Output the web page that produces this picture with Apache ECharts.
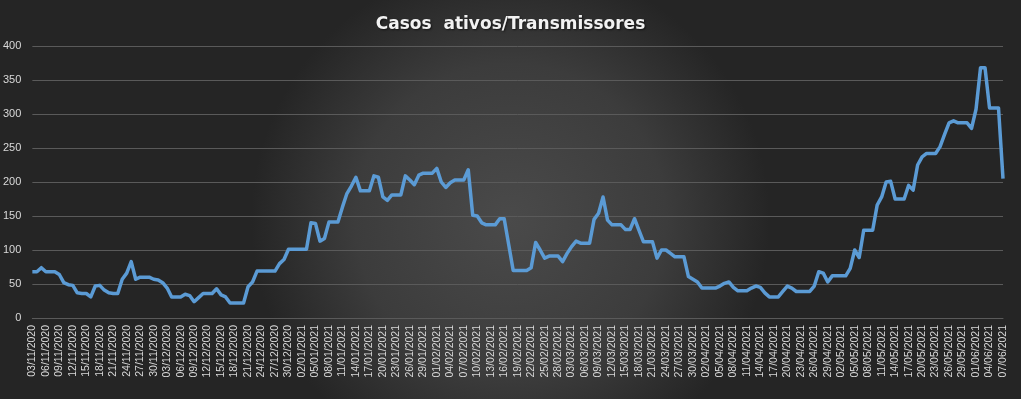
<!DOCTYPE html>
<html>
<head>
<meta charset="utf-8">
<script src="https://cdn.jsdelivr.net/npm/echarts@6/dist/echarts.min.js"></script>
<style>
html,body{margin:0;padding:0;background:#262626;}
#chart{width:1021px;height:399px;}
</style>
</head>
<body>
<div id="chart"></div>
<script>
// Data
const startDate = [2020, 11, 3]; // first day of the daily series
const dayCount = 217;             // 03/11/2020 .. 07/06/2021
const yTicks = [0, 50, 100, 150, 200, 250, 300, 350, 400];
const activeCases = [
  68, 68, 74, 68, 68, 68, 64, 52, 49, 48,
  37, 36, 36, 31, 47, 48, 41, 37, 36, 36,
  57, 66, 83, 57, 60, 60, 60, 57, 56, 52,
  44, 31, 31, 31, 35, 33, 24, 30, 36, 36,
  36, 43, 34, 31, 22, 22, 22, 22, 46, 53,
  69, 69, 69, 69, 69, 80, 86, 101, 101, 101,
  101, 101, 140, 139, 113, 117, 141, 141, 141, 163,
  183, 194, 207, 187, 187, 187, 209, 207, 178, 173,
  181, 181, 181, 209, 203, 196, 210, 213, 213, 213,
  220, 200, 192, 199, 203, 203, 203, 218, 151, 150,
  140, 137, 137, 137, 146, 146, 108, 70, 70, 70,
  70, 74, 111, 100, 88, 91, 91, 91, 83, 95,
  105, 113, 110, 110, 110, 145, 154, 178, 144, 137,
  137, 137, 130, 130, 146, 129, 112, 112, 112, 88,
  100, 100, 95, 90, 90, 90, 61, 57, 53, 44,
  44, 44, 44, 47, 51, 53, 45, 40, 40, 40,
  44, 47, 45, 37, 31, 31, 31, 39, 47, 44,
  39, 39, 39, 39, 47, 68, 66, 53, 62, 62,
  62, 62, 73, 100, 89, 129, 129, 129, 166, 178,
  200, 201, 175, 175, 175, 195, 188, 225, 237, 242,
  242, 242, 252, 270, 287, 290, 287, 287, 287, 279,
  307, 368, 368, 309, 309, 309, 205
];
const titleText = 'Casos  ativos/Transmissores';

function pad(n){ return (n < 10 ? '0' : '') + n; }
const categories = [];
for (let i = 0; i < dayCount; i++) {
  const d = new Date(Date.UTC(startDate[0], startDate[1] - 1, startDate[2] + i));
  categories.push(pad(d.getUTCDate()) + '/' + pad(d.getUTCMonth() + 1) + '/' + d.getUTCFullYear());
}

const chart = echarts.init(document.getElementById('chart'), null, {renderer: 'canvas'});
chart.setOption({
  animation: false,
  backgroundColor: {
    type: 'radial', x: 0.5, y: 0.55, r: 0.65,
    colorStops: [
      {offset: 0, color: '#4a4a4a'},
      {offset: 0.6, color: '#3c3c3c'},
      {offset: 1, color: '#252525'}
    ]
  },
  title: {
    text: titleText,
    left: 'center',
    top: 11,
    textStyle: {color: '#f2f2f2', fontSize: 17, fontWeight: 'bold', fontFamily: 'DejaVu Sans',
      textShadowColor: 'rgba(0,0,0,0.6)', textShadowBlur: 2, textShadowOffsetX: 1, textShadowOffsetY: 1}
  },
  grid: {left: 32, right: 18, top: 46, bottom: 81, containLabel: false},
  xAxis: {
    type: 'category',
    data: categories,
    boundaryGap: false,
    axisLine: {show: true, lineStyle: {color: '#5a5a5a'}},
    axisTick: {show: false},
    axisLabel: {
      interval: 2,
      rotate: 90,
      margin: 7,
      color: '#d9d9d9',
      fontSize: 10.5,
      fontFamily: 'Liberation Sans'
    },
    splitLine: {show: false}
  },
  yAxis: {
    type: 'value',
    min: yTicks[0],
    max: yTicks[yTicks.length - 1],
    interval: yTicks[1] - yTicks[0],
    axisLine: {show: false},
    axisTick: {show: false},
    axisLabel: {color: '#d9d9d9', fontSize: 11, margin: 11, fontFamily: 'Liberation Sans'},
    splitLine: {lineStyle: {color: '#5a5a5a', width: 1}}
  },
  series: [{
    type: 'line',
    data: activeCases,
    showSymbol: false,
    symbol: 'none',
    lineStyle: {color: '#5b9bd5', width: 3.5, join: 'round'},
    itemStyle: {color: '#5b9bd5'}
  }]
});
</script>
</body>
</html>
